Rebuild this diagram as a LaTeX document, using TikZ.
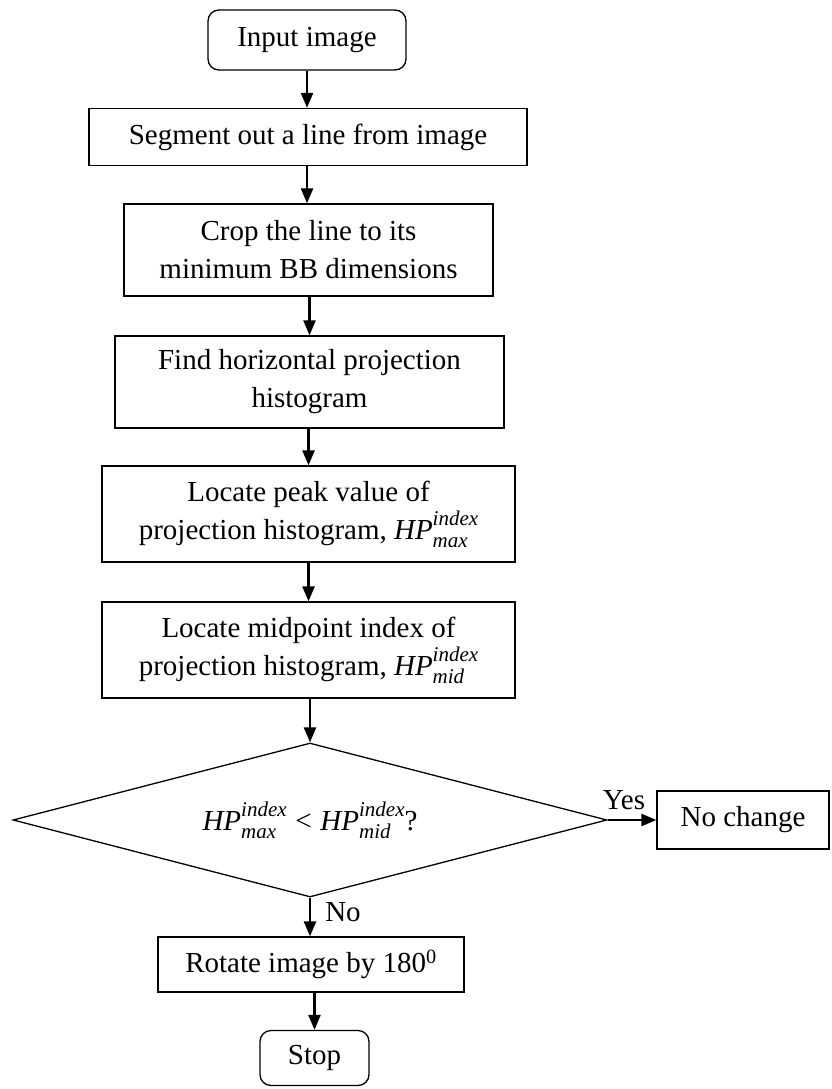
\documentclass[tikz,border=0pt]{standalone}
\usepackage{fontspec}
\setmainfont{Liberation Serif}
\usetikzlibrary{shapes.geometric,arrows.meta}
\newcommand\bigtxt{\fontsize{29}{38}\selectfont}
\newcommand\hpv[1]{\textit{HP}\mbox{\fontsize{21}{21}\selectfont\itshape\ooalign{\raisebox{0.66em}{index}\cr\raisebox{-0.38em}{#1}\cr}}}
\begin{document}
\begin{tikzpicture}[x=1pt,y=1pt,
  box/.style={draw,line width=1.3pt,align=center,inner sep=0pt,font=\bigtxt},
  rbox/.style={box,rounded corners=11pt},
  dec/.style={draw,line width=1.3pt,shape=diamond,inner sep=0pt,font=\bigtxt,aspect=3.86},
  arr/.style={line width=2.4pt,-{Triangle[length=15pt,width=12pt]}},
  lbl/.style={font=\bigtxt,inner sep=0pt}]
\useasboundingbox (0,0) rectangle (831,-1089);
\node[rbox,minimum width=198pt,minimum height=60pt] (in) at (307,-40) {Input image};
\node[box,minimum width=438pt,minimum height=57pt] (seg) at (308,-137) {Segment out a line from image};
\node[box,minimum width=369pt,minimum height=92pt] (crop) at (308.5,-250) {Crop the line to its\\minimum BB dimensions};
\node[box,minimum width=389pt,minimum height=92pt] (find) at (309.5,-382) {Find horizontal projection\\histogram};
\node[box,minimum width=413pt,minimum height=96pt] (peak) at (308.5,-514) {Locate peak value of\\projection histogram, \hpv{max}};
\node[box,minimum width=413pt,minimum height=96pt] (mid) at (308.5,-650) {Locate midpoint index of\\projection histogram, \hpv{mid}};
\node[dec,minimum width=594pt,minimum height=154pt] (dia) at (310,-820) {\hpv{max}\hspace{0.3em}<\hspace{0.3em}\hpv{mid}?};
\node[box,minimum width=172pt,minimum height=58pt] (nc) at (743,-820) {No change};
\node[box,minimum width=306pt,minimum height=55pt] (rot) at (311,-964.5) {Rotate image by 180\textsuperscript{0}};
\node[rbox,minimum width=109pt,minimum height=55pt] (stop) at (314.5,-1058) {Stop};
\node[lbl] (yes) at (624,-800) {Yes};
\node[lbl] (no) at (343,-912) {No};
\draw[arr] (in.south) -- (in.south |- seg.north);
\draw[arr] (in.south |- seg.south) -- (in.south |- crop.north);
\draw[arr] (find.north |- crop.south) -- (find.north);
\draw[arr] (peak.north |- find.south) -- (peak.north);
\draw[arr] (peak.south) -- (mid.north);
\draw[arr] (dia.north |- mid.south) -- (dia.north);
\draw[arr] (dia.east) -- (nc.west);
\draw[arr] (dia.south) -- (dia.south |- rot.north);
\draw[arr] (stop.north |- rot.south) -- (stop.north);
\end{tikzpicture}
\end{document}
